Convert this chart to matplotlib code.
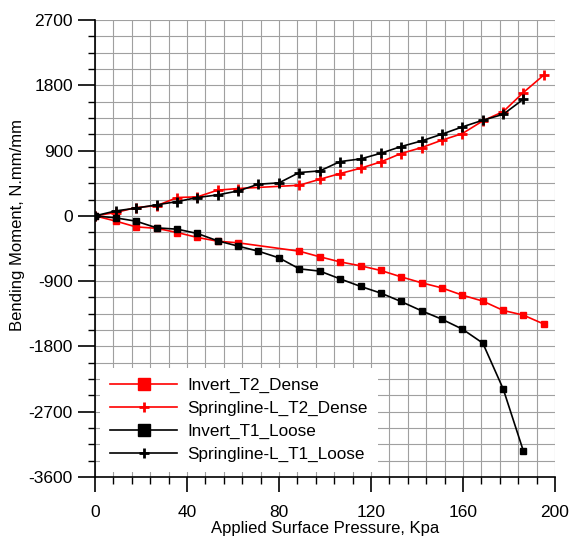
import matplotlib.pyplot as plt
from matplotlib.ticker import MultipleLocator

plt.rcParams['font.family'] = ['Liberation Sans', 'DejaVu Sans']
plt.rcParams['axes.unicode_minus'] = False

# pressure steps (Kpa)
p_dense = [0, 9.1, 17.8, 26.8, 35.8, 44.5, 53.3, 62.3, 88.8, 97.8, 106.5, 115.5,
           124.3, 133, 142, 150.7, 159.7, 168.6, 177.5, 186.2, 195.2]
p_loose = [0, 9.1, 17.8, 26.8, 35.8, 44.5, 53.3, 62.3, 71, 80, 88.8, 97.8, 106.5,
           115.5, 124.3, 133, 142, 150.7, 159.7, 168.6, 177.5, 186.2]

invert_t2 = [0, -73, -152, -172, -230, -298, -349, -372, -487, -565, -634, -689,
             -753, -840, -923, -992, -1093, -1175, -1304, -1368, -1492]
spring_t2 = [0, 46, 115, 140, 253, 262, 354, 377, 422, 505, 583, 657,
             744, 859, 941, 1042, 1134, 1309, 1437, 1699, 1943]
invert_t1 = [0, -28, -73, -165, -184, -243, -344, -418, -487, -579, -730, -762,
             -868, -973, -1065, -1180, -1309, -1423, -1561, -1754, -2388, -3237]
spring_t1 = [0, 69, 106, 152, 197, 253, 289, 344, 436, 455, 597, 620, 748,
             785, 863, 955, 1033, 1125, 1226, 1318, 1400, 1607]

fig = plt.figure(figsize=(5.7, 5.43), dpi=100)
ax = fig.add_axes([0.1667, 0.1215, 0.807, 0.8417])

ax.plot(p_dense, invert_t2, color='red', marker='s', ms=4.5, lw=1.2,
        label='Invert_T2_Dense')
ax.plot(p_dense, spring_t2, color='red', marker='+', ms=7, mew=2, lw=1.2,
        label='Springline-L_T2_Dense')
ax.plot(p_loose, invert_t1, color='black', marker='s', ms=4.5, lw=1.2,
        label='Invert_T1_Loose')
ax.plot(p_loose, spring_t1, color='black', marker='+', ms=7, mew=2, lw=1.2,
        label='Springline-L_T1_Loose')

ax.set_xlim(0, 200)
ax.set_ylim(-3600, 2700)
ax.xaxis.set_major_locator(MultipleLocator(40))
ax.xaxis.set_minor_locator(MultipleLocator(8))
ax.yaxis.set_major_locator(MultipleLocator(900))
ax.yaxis.set_minor_locator(MultipleLocator(225))
ax.grid(True, which='both', color='#a0a0a0', lw=0.8)
ax.set_axisbelow(True)
for s in ['top', 'right']:
    ax.spines[s].set_visible(False)
ax.spines['left'].set_linewidth(1.2)
ax.spines['bottom'].set_linewidth(1.2)
ax.tick_params(which='major', direction='out', width=1.2, labelsize=12.5)
ax.tick_params(axis='y', which='major', length=12, pad=4)
ax.tick_params(axis='x', which='major', length=11, pad=9)
ax.tick_params(which='minor', direction='out', length=5, width=1)

ax.set_xlabel('Applied Surface Pressure, Kpa', fontsize=12, labelpad=1)
ax.set_ylabel('Bending Moment, N.mm/mm', fontsize=12)
ax.yaxis.set_label_coords(-0.152, 0.551)

leg = ax.legend(loc='lower left', fontsize=12.3, handlelength=3.9,
                handletextpad=0.6, frameon=True, fancybox=False, framealpha=1,
                edgecolor='none', borderaxespad=0.3, borderpad=0.6,
                labelspacing=0.45)
for h in leg.legend_handles:
    if h.get_marker() == 's':
        h.set_markersize(9)

fig.savefig('out.png', dpi=100)
